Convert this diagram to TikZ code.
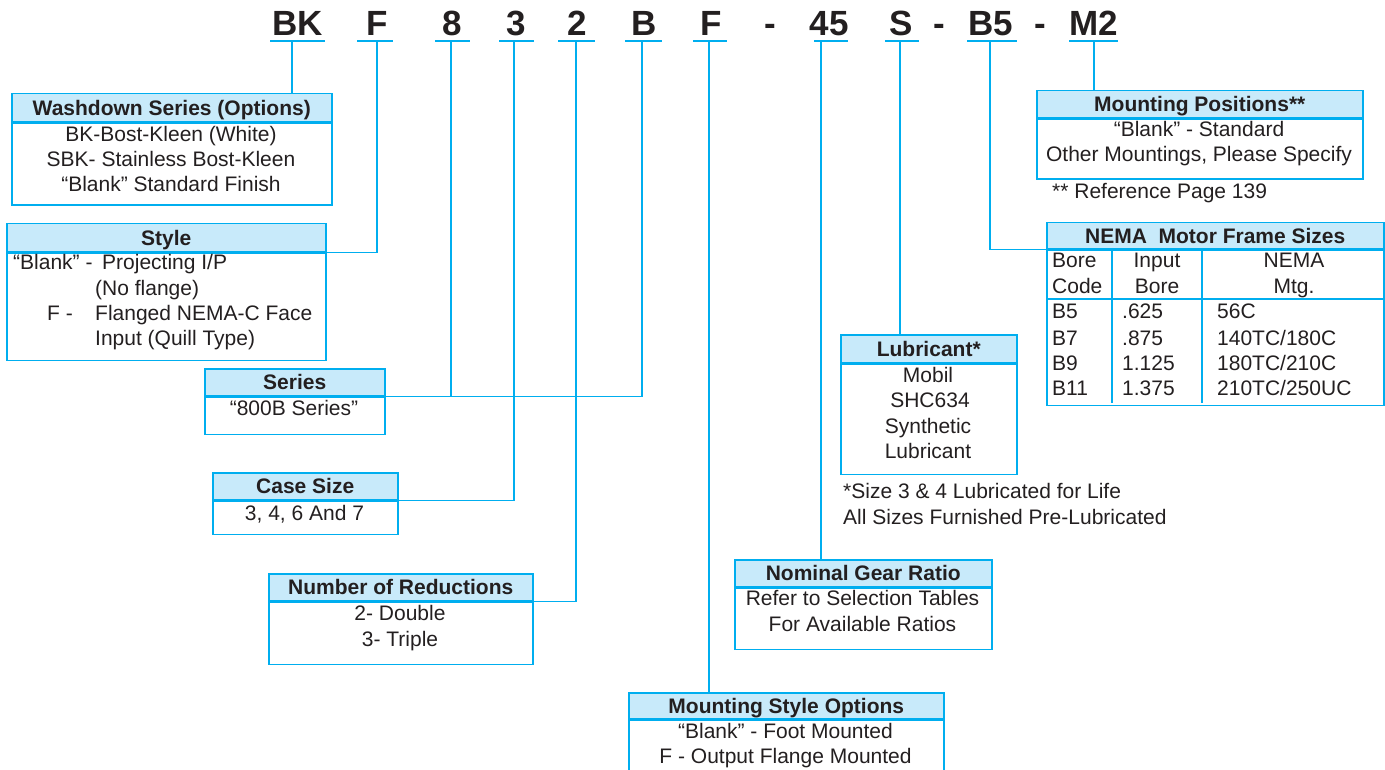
\documentclass[tikz,border=0pt]{standalone}
\usepackage{fontspec}
\setmainfont{Liberation Sans}
\definecolor{cy}{RGB}{0,174,239}
\definecolor{hb}{RGB}{200,234,250}
\definecolor{tx}{RGB}{35,31,32}
\newcommand\bdfont{\fontsize{21}{25.3}\selectfont}
\newcommand\hdfont{\fontsize{21}{25.3}\selectfont\bfseries}
\newcommand\cdfont{\fontsize{35}{40}\selectfont\bfseries}
\begin{document}
\begin{tikzpicture}[x=1pt,y=-1pt,
  hdr/.style={draw=cy, fill=hb, line width=1.5pt, inner sep=0pt, anchor=north west, font=\hdfont, text=tx, text height=15pt, text depth=0pt},
  bdy/.style={draw=cy, line width=1.5pt, inner sep=0pt, anchor=north west},
  txt/.style={font=\bdfont, text=tx, anchor=base, inner sep=0pt},
  txl/.style={font=\bdfont, text=tx, anchor=base west, inner sep=0pt},
  code/.style={font=\cdfont, text=tx, anchor=base, inner sep=0pt},
  link/.style={draw=cy, line width=1.5pt},
  uline/.style={draw=cy, line width=1.5pt}]
\useasboundingbox (0,0) rectangle (1385,770);

% ---------- code row ----------
\node[code] (cBK) at (297.5,36) {BK};
\node[code] (cF1) at (377,36) {F};
\node[code] (c8) at (452.5,36) {8};
\node[code] (c3) at (516,36) {3};
\node[code] (c2) at (577,36) {2};
\node[code] (cB) at (644,36) {B};
\node[code] (cF2) at (711,36) {F};
\node[code] (cd1) at (770.5,36) {-};
\node[code] (c45) at (829,36) {45};
\node[code] (cS) at (901,36) {S};
\node[code] (cd2) at (939,36) {-};
\node[code] (cB5) at (991,36) {B5};
\node[code] (cd3) at (1040.5,36) {-};
\node[code] (cM2) at (1094,36) {M2};

\draw[uline] ([shift={(-27.5pt,-5pt)}]cBK.base) -- ([shift={(27.5pt,-5pt)}]cBK.base);
\draw[uline] ([shift={(-20pt,-5pt)}]cF1.base) -- ([shift={(16pt,-5pt)}]cF1.base);
\draw[uline] ([shift={(-17.5pt,-5pt)}]c8.base) -- ([shift={(17.5pt,-5pt)}]c8.base);
\draw[uline] ([shift={(-17pt,-5pt)}]c3.base) -- ([shift={(18pt,-5pt)}]c3.base);
\draw[uline] ([shift={(-19pt,-5pt)}]c2.base) -- ([shift={(18pt,-5pt)}]c2.base);
\draw[uline] ([shift={(-19pt,-5pt)}]cB.base) -- ([shift={(18pt,-5pt)}]cB.base);
\draw[uline] ([shift={(-18pt,-5pt)}]cF2.base) -- ([shift={(16pt,-5pt)}]cF2.base);
\draw[uline] ([shift={(-15pt,-5pt)}]c45.base) -- ([shift={(19pt,-5pt)}]c45.base);
\draw[uline] ([shift={(-16pt,-5pt)}]cS.base) -- ([shift={(18pt,-5pt)}]cS.base);
\draw[uline] ([shift={(-24pt,-5pt)}]cB5.base) -- ([shift={(26pt,-5pt)}]cB5.base);
\draw[uline] ([shift={(-25pt,-5pt)}]cM2.base) -- ([shift={(24pt,-5pt)}]cM2.base);

\coordinate (sBK) at (292,41);
\coordinate (sF1) at (377,41);
\coordinate (s8) at (451,41);
\coordinate (s3) at (514,41);
\coordinate (s2) at (576,41);
\coordinate (sB) at (642,41);
\coordinate (sF2) at (709,41);
\coordinate (s45) at (821,41);
\coordinate (sS) at (900,41);
\coordinate (sB5) at (990,41);
\coordinate (sM2) at (1094,41);

% ---------- Washdown ----------
\node[hdr, minimum width=320pt, minimum height=28pt] (washH) at (11,93) {Washdown Series (Options)};
\node[bdy, minimum width=320pt, minimum height=82pt] (washB) at (washH.south west) {};
\node[txt] (washT1) at (171,142) {BK-Bost-Kleen (White)};
\node[txt] (washT2) at (171,167) {SBK- Stainless Bost-Kleen};
\node[txt] (washT3) at (171,192) {“Blank” Standard Finish};

% ---------- Style ----------
\node[hdr, minimum width=319pt, minimum height=28pt] (styleH) at (6,223) {Style};
\node[bdy, minimum width=319pt, minimum height=107pt] (styleB) at (styleH.south west) {};
\node[txl] (st1) at (13,270) {“Blank” -};
\node[txl] (st2) at (102,270) {Projecting I/P};
\node[txl] (st3) at (95,295) {(No flange)};
\node[txl] (st4) at (47,320) {F -};
\node[txl] (st5) at (95,320) {Flanged NEMA-C Face};
\node[txl] (st6) at (95,345) {Input (Quill Type)};

% ---------- Series ----------
\node[hdr, minimum width=180pt, minimum height=27pt] (serH) at (204,368) {Series};
\node[bdy, minimum width=180pt, minimum height=37pt] (serB) at (serH.south west) {};
\node[txt] (serT) at (294,415) {“800B Series”};

% ---------- Case size ----------
\node[hdr, minimum width=185pt, minimum height=27pt] (caseH) at (212,472) {Case Size};
\node[bdy, minimum width=185pt, minimum height=33pt] (caseB) at (caseH.south west) {};
\node[txt] (caseT) at (304.5,520) {3, 4, 6 And 7};

% ---------- Reductions ----------
\node[hdr, minimum width=264pt, minimum height=27pt] (redH) at (268,573) {Number of Reductions};
\node[bdy, minimum width=264pt, minimum height=62pt] (redB) at (redH.south west) {};
\node[txt] (redT1) at (400,620) {2- Double};
\node[txt] (redT2) at (400,646) {3- Triple};

% ---------- Nominal gear ratio ----------
\node[hdr, minimum width=257pt, minimum height=27pt] (nomH) at (734,559) {Nominal Gear Ratio};
\node[bdy, minimum width=257pt, minimum height=61pt] (nomB) at (nomH.south west) {};
\node[txt] (nomT1) at (862.5,605) {Refer to Selection Tables};
\node[txt] (nomT2) at (862.5,631) {For Available Ratios};

% ---------- Mounting style options ----------
\node[hdr, minimum width=315pt, minimum height=26pt] (msH) at (628,692) {Mounting Style Options};
\node[bdy, minimum width=315pt, minimum height=90pt] (msB) at (msH.south west) {};
\node[txt] (msT1) at (785.5,738) {“Blank” - Foot Mounted};
\node[txt] (msT2) at (785.5,763) {F - Output Flange Mounted};

% ---------- Mounting positions ----------
\node[hdr, minimum width=326pt, minimum height=27pt] (mpH) at (1036,90) {Mounting Positions**};
\node[bdy, minimum width=326pt, minimum height=60pt] (mpB) at (mpH.south west) {};
\node[txt] (mpT1) at (1199,137) {“Blank” - Standard};
\node[txt] (mpT2) at (1199,162) {Other Mountings, Please Specify};
\node[txl] (mpN) at (1052,199) {** Reference Page 139};

% ---------- NEMA table ----------
\node[hdr, minimum width=337pt, minimum height=26pt] (nemaH) at (1046,222) {NEMA\ \ Motor Frame Sizes};
\node[bdy, minimum width=337pt, minimum height=155pt] (nemaB) at (nemaH.south west) {};
\draw[link] (1112,248) -- (1112,403);
\draw[link] (1202,248) -- (1202,403);
\draw[link] (1046,299) -- (1383,299);
\node[txl] (n11) at (1052,268) {Bore};
\node[txl] (n12) at (1052,294) {Code};
\node[txt] (n21) at (1157,268) {Input};
\node[txt] (n22) at (1157,294) {Bore};
\node[txt] (n31) at (1294,268) {NEMA};
\node[txt] (n32) at (1294,294) {Mtg.};
\node[txl] (r11) at (1052,319) {B5};
\node[txl] (r12) at (1052,345) {B7};
\node[txl] (r13) at (1052,370) {B9};
\node[txl] (r14) at (1052,395) {B11};
\node[txl] (r21) at (1122,319) {.625};
\node[txl] (r22) at (1122,345) {.875};
\node[txl] (r23) at (1122,370) {1.125};
\node[txl] (r24) at (1122,395) {1.375};
\node[txl] (r31) at (1217,319) {56C};
\node[txl] (r32) at (1217,345) {140TC/180C};
\node[txl] (r33) at (1217,370) {180TC/210C};
\node[txl] (r34) at (1217,395) {210TC/250UC};

% ---------- Lubricant ----------
\node[hdr, minimum width=176pt, minimum height=28pt] (lubH) at (840,334) {Lubricant*};
\node[bdy, minimum width=176pt, minimum height=110pt] (lubB) at (lubH.south west) {};
\node[txt] (lubT1) at (928,382) {Mobil};
\node[txt] (lubT2) at (930,407) {SHC634};
\node[txt] (lubT3) at (928,433) {Synthetic};
\node[txt] (lubT4) at (928,458) {Lubricant};
\node[txl] (lubN1) at (843,498) {*Size 3 \& 4 Lubricated for Life};
\node[txl] (lubN2) at (843,524) {All Sizes Furnished Pre-Lubricated};

% ---------- connectors ----------
\draw[link] (sBK) -- (sBK |- washH.north);
\draw[link] (sF1) |- (styleH.south east);
\draw[link] (s8) -- (s8 |- serH.south east);
\draw[link] (sB) |- (serH.south east);
\draw[link] (s3) |- (caseH.south east);
\draw[link] (s2) |- (redH.south east);
\draw[link] (sF2) -- (sF2 |- msH.north);
\draw[link] (s45) -- (s45 |- nomH.north);
\draw[link] (sS) -- (sS |- lubH.north);
\draw[link] (sB5) |- (nemaH.south west);
\draw[link] (sM2) -- (sM2 |- mpH.north);
\end{tikzpicture}
\end{document}
